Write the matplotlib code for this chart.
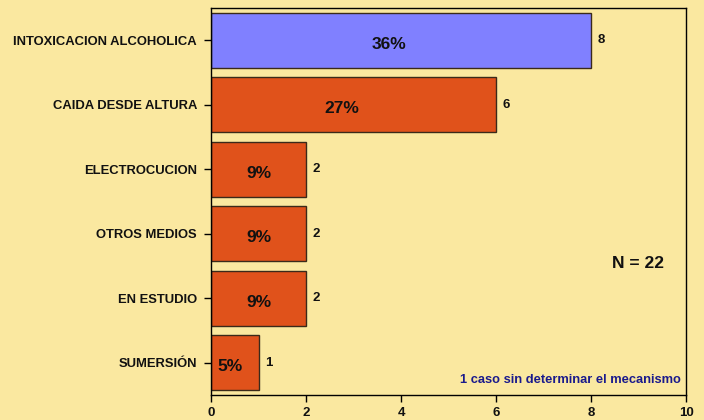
import matplotlib
matplotlib.use("Agg")
import matplotlib.pyplot as plt

categories = ["INTOXICACION ALCOHOLICA", "CAIDA DESDE ALTURA", "ELECTROCUCION",
              "OTROS MEDIOS", "EN ESTUDIO", "SUMERSIÓN"]
counts = [8, 6, 2, 2, 2, 1]
percents = ["36%", "27%", "9%", "9%", "9%", "5%"]
bar_colors = ["#8080FF", "#E0521B", "#E0521B", "#E0521B", "#E0521B", "#E0521B"]
x_ticks = [0, 2, 4, 6, 8, 10]
n_label = "N = 22"
note = "1 caso sin determinar el mecanismo"

bg = "#FAE8A0"
plt.rcParams['font.family'] = ['Liberation Sans', 'DejaVu Sans']

fig = plt.figure(figsize=(7.04, 4.2), dpi=100, facecolor=bg)
ax = fig.add_axes([211/704, 1-395/420, (686-211)/704, (395-8)/420])
ax.set_facecolor(bg)

ypos = list(range(len(categories)))
ax.barh(ypos, counts, height=0.85, color=bar_colors, edgecolor="#3a2a1a", linewidth=1.0)

for y, c, p in zip(ypos, counts, percents):
    off = 0.25 if c > 2 else (0.1 if c == 1 else 0.0)
    ax.text(c/2 - off, y + 0.06, p, ha='center', va='center', fontsize=12.5,
            fontweight='bold', color='#111111')
    ax.text(c + 0.13, y, str(c), ha='left', va='center', fontsize=9.5,
            fontweight='bold', color='#111111')

ax.set_xlim(0, 10)
ax.set_ylim(5.5, -0.5)
ax.set_yticks(ypos)
ax.set_yticklabels(categories, fontsize=9.4, fontweight='bold', color='#111111')
ax.set_xticks(x_ticks)
ax.set_xticklabels([str(t) for t in x_ticks], fontsize=9.5, fontweight='bold', color='#111111')
ax.tick_params(axis='y', length=5, width=1, pad=5)
ax.tick_params(axis='x', length=5, width=1, pad=4)
for s in ax.spines.values():
    s.set_color('black')
    s.set_linewidth(1.0)

ax.text(0.9, 0.34, n_label, transform=ax.transAxes, ha='center', va='center',
        fontsize=12.5, fontweight='bold', color='#111111')
ax.text(0.99, 0.04, note, transform=ax.transAxes, ha='right', va='center',
        fontsize=9.3, fontweight='bold', color='#1a1a8c')

fig.savefig("out.png", dpi=100, facecolor=bg)
